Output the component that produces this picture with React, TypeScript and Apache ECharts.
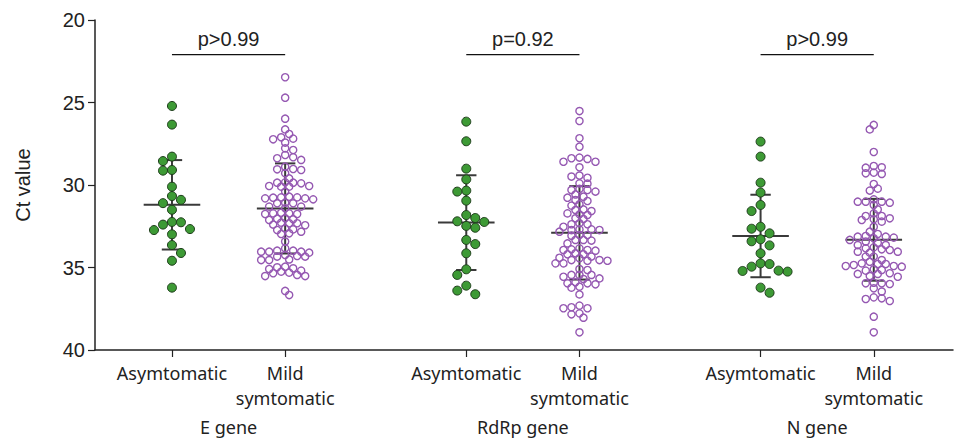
import React, { useEffect, useRef } from "react";
import * as echarts from "echarts";

// ---------- data ----------
const genes = ["E gene", "RdRp gene", "N gene"];
const groupLabels = ["Asymtomatic", "Mild\nsymtomatic"];
const pValues = ["p>0.99", "p=0.92", "p>0.99"];
const bracketLevel = 22.1;
const yTicks = [20, 25, 30, 35, 40];

const eAsym = [25.21, 26.34, 28.28, 28.55, 29.13, 29.09, 30.1, 30.67, 30.9, 31.1, 31.5, 32.4, 32.24, 32.26, 32.73, 32.67, 32.99, 33.64, 34.12, 34.59, 36.22];
const eMild = [23.47, 24.71, 25.98, 26.63, 26.91, 27.19, 27.11, 27.23, 27.43, 27.78, 27.88, 28.18, 28.32, 28.38, 28.48, 28.89, 29.03, 29.05, 29.09, 29.29, 29.6,
  29.9, 29.84, 29.86, 29.86, 30.06, 30.1, 30.06, 30.1, 30.4, 30.71, 30.75, 30.81, 30.77, 30.75, 30.81, 30.87, 31.11, 31.11, 31.07, 31.31, 31.41, 31.31,
  31.72, 31.76, 31.68, 31.72, 31.76, 32.02, 32.08, 32.12, 32.04, 32.28, 32.32, 32.32, 32.4, 32.44, 32.63, 32.69, 32.73, 32.83, 32.93, 32.97, 33.43, 33.84,
  33.98, 34.04, 34.1, 34.04, 34.04, 33.98, 34.24, 34.34, 34.34, 34.3, 34.55, 34.51, 34.55, 34.95, 35.05, 34.99, 35.09, 35.19, 35.25, 35.31, 35.35,
  35.45, 35.52, 35.52, 36.42, 36.67];
const rdrpAsym = [26.16, 27.35, 29.01, 29.66, 30.34, 30.4, 30.95, 31.82, 32.2, 32.0, 32.24, 32.59, 32.48, 33.33, 33.58, 34.14, 35.11, 35.45, 36.1, 36.4, 36.62];
const rdrpMild = [25.52, 26.12, 27.17, 27.68, 28.34, 28.42, 28.38, 28.59, 28.59, 28.93, 29.49, 29.56, 29.43, 29.9, 29.92, 30.3, 30.3, 30.24, 30.4, 30.57,
  30.71, 30.77, 30.97, 30.91, 31.17, 31.25, 31.48, 31.52, 31.72, 31.78, 31.82, 31.58, 32.02, 32.06, 32.32, 32.38, 32.38, 32.53, 32.69, 32.73, 32.69, 32.73,
  33.03, 33.07, 32.83, 33.03, 33.33, 33.33, 33.37, 33.54, 33.84, 33.94, 33.98, 33.94, 33.9, 34.14, 34.2, 34.2, 34.41, 34.34, 34.44, 34.55, 34.55, 34.59, 34.59,
  34.75, 34.75, 35.09, 35.15, 35.45, 35.45, 35.45, 35.56, 35.66, 35.7, 35.96, 35.96, 35.9, 36.02, 36.16, 36.22, 36.63, 37.31, 37.41, 37.47, 37.47,
  37.84, 37.78, 38.04, 38.93];
const nAsym = [27.37, 28.28, 29.86, 30.46, 31.21, 31.58, 32.53, 32.65, 32.93, 33.29, 33.41, 33.66, 34.14, 34.75, 34.79, 34.95, 35.25, 35.19, 35.21, 36.22, 36.53];
const nMild = [26.36, 26.63, 28.0, 28.93, 28.85, 28.95, 29.25, 29.33, 29.29, 29.94, 30.22, 30.34, 30.87, 31.01, 31.07, 31.01, 31.01, 31.21, 31.48, 31.72,
  31.88, 31.88, 32.02, 32.08, 32.12, 32.22, 32.53, 32.83, 32.97, 33.09, 33.13, 33.23, 33.19, 33.13, 33.33, 33.43, 33.5, 33.64, 33.64, 33.84, 33.9, 33.78,
  34.04, 34.1, 34.04, 33.94, 34.34, 34.34, 34.65, 34.55, 34.75, 34.79, 34.85, 34.79, 34.95, 34.91, 34.91, 35.15, 35.19, 35.11, 35.35, 35.39, 35.39,
  35.52, 35.56, 35.96, 35.96, 36.0, 35.92, 36.26, 36.46, 36.81, 36.87, 36.91, 37.03, 37.98, 38.93];

const groupValues = [eAsym, eMild, rdrpAsym, rdrpMild, nAsym, nMild];
const groupMeans = [31.2, 31.42, 32.28, 32.9, 33.09, 33.32];
const groupSds = [2.71, 2.73, 2.87, 2.83, 2.5, 2.48];

// ---------- layout ----------
const W = 957;
const H = 440;
const GRID = { left: 95, right: 4, top: 20, bottom: 90 };
const X_MIN = -0.68;
const X_MAX = 6.9;
const GROUP_STEP = 2.6;
const Y_MIN = 20;
const Y_MAX = 40;

const pxPerX = (W - GRID.left - GRID.right) / (X_MAX - X_MIN);
const pxPerY = (H - GRID.top - GRID.bottom) / (Y_MAX - Y_MIN);

const posOf = (g: number, s: number) => g * GROUP_STEP + s;
const catPositions: number[] = [];
const catNames: string[] = [];
genes.forEach((_, g) => groupLabels.forEach((lab, s) => { catPositions.push(posOf(g, s)); catNames.push(lab); }));
const genePositions = genes.map((_, g) => posOf(g, 0.5));

function swarm(values: number[], step: number, minDist: number): number[] {
  const order = values.map((_, i) => i).sort((a, b) => values[a] - values[b]);
  const placed: { x: number; y: number }[] = [];
  const offs = new Array(values.length).fill(0);
  let flip = 1;
  for (const i of order) {
    const y = values[i] * pxPerY;
    let chosen = 0;
    for (let k = 0; k < 60; k++) {
      const cands = k === 0 ? [0] : [flip * k * step, -flip * k * step];
      const ok = cands.find((c) => placed.every((p) => (p.x - c) ** 2 + (p.y - y) ** 2 >= minDist * minDist));
      if (ok !== undefined) { chosen = ok; break; }
    }
    flip = -flip;
    placed.push({ x: chosen, y });
    offs[i] = chosen;
  }
  return offs;
}

const GREEN = "#3d9a35";
const GREEN_EDGE = "#1e3d1b";
const PURPLE = "#9558b2";
const LABEL_FONT = "'Noto Sans', Roboto, sans-serif";
const NUM_FONT = "'Liberation Sans', Arial, sans-serif";

export default function App() {
  const ref = useRef<HTMLDivElement>(null);
  useEffect(() => {
    if (!ref.current) return;
    const chart = echarts.init(ref.current, undefined, { renderer: "svg" });

    const dotSeries = groupValues.map((vals, idx) => {
      const g = Math.floor(idx / 2);
      const s = idx % 2;
      const asym = s === 0;
      const offs = asym ? swarm(vals, 9, 9) : swarm(vals, 4, 5.6);
      const center = posOf(g, s);
      return {
        type: "scatter",
        z: 3,
        silent: true,
        symbol: "circle",
        symbolSize: asym ? 9 : 7.2,
        itemStyle: asym
          ? { color: GREEN, borderColor: GREEN_EDGE, borderWidth: 1, opacity: 1 }
          : { color: "rgba(0,0,0,0)", borderColor: PURPLE, borderWidth: 1.4, opacity: 1 },
        data: vals.map((v, i) => [center + offs[i] / pxPerX, v]),
      };
    });

    const statsData = groupMeans.map((m, i) => [catPositions[i], m, groupSds[i]]);
    const bracketData = genes.map((_, g) => [posOf(g, 0), posOf(g, 1), bracketLevel]);

    const axisColor = "#222";
    const option: any = {
      animation: false,
      grid: { ...GRID, containLabel: false },
      xAxis: [
        {
          type: "value",
          min: X_MIN,
          max: X_MAX,
          position: "bottom",
          axisLine: { show: true, onZero: false, lineStyle: { color: axisColor, width: 1.5 } },
          axisTick: { show: true, customValues: catPositions, length: 7, lineStyle: { color: axisColor, width: 1.2 } },
          axisLabel: {
            customValues: catPositions,
            formatter: (v: number) => {
              const i = catPositions.findIndex((p) => Math.abs(p - v) < 1e-6);
              return i >= 0 ? catNames[i] : "";
            },
            fontFamily: LABEL_FONT,
            fontSize: 18,
            lineHeight: 25,
            color: "#222",
            margin: 10,
          },
          splitLine: { show: false },
        },
        {
          type: "value",
          min: X_MIN,
          max: X_MAX,
          position: "bottom",
          axisLine: { show: false, onZero: false },
          axisTick: { show: false },
          axisLabel: {
            customValues: genePositions,
            formatter: (v: number) => {
              const i = genePositions.findIndex((p) => Math.abs(p - v) < 1e-6);
              return i >= 0 ? genes[i] : "";
            },
            fontFamily: LABEL_FONT,
            fontSize: 18,
            color: "#222",
            margin: 68,
          },
          splitLine: { show: false },
        },
      ],
      yAxis: {
        type: "value",
        inverse: true,
        min: Y_MIN,
        max: Y_MAX,
        interval: 5,
        name: "Ct value",
        nameLocation: "middle",
        nameGap: 62,
        nameTextStyle: { fontFamily: NUM_FONT, fontSize: 20, color: "#222" },
        axisLine: { show: true, onZero: false, lineStyle: { color: axisColor, width: 1.5 } },
        axisTick: { show: true, length: 7, lineStyle: { color: axisColor, width: 1.2 } },
        axisLabel: {
          fontFamily: NUM_FONT,
          fontSize: 20,
          color: "#222",
          margin: 10,
          formatter: (v: number) => (yTicks.includes(v) ? String(v) : ""),
        },
        splitLine: { show: false },
      },
      series: [
        {
          type: "custom",
          z: 2,
          silent: true,
          renderItem: (_p: any, api: any) => {
            const x = api.value(0), m = api.value(1), s = api.value(2);
            const style = { stroke: "#3a3a3a", lineWidth: 2 };
            const seg = (a: number[], b: number[]) => ({ type: "line", shape: { x1: a[0], y1: a[1], x2: b[0], y2: b[1] }, style });
            return {
              type: "group",
              children: [
                seg(api.coord([x - 0.25, m]), api.coord([x + 0.25, m])),
                seg(api.coord([x, m - s]), api.coord([x, m + s])),
                seg(api.coord([x - 0.09, m - s]), api.coord([x + 0.09, m - s])),
                seg(api.coord([x - 0.09, m + s]), api.coord([x + 0.09, m + s])),
              ],
            };
          },
          data: statsData,
        },
        {
          type: "custom",
          z: 2,
          silent: true,
          renderItem: (p: any, api: any) => {
            const a = api.coord([api.value(0), api.value(2)]);
            const b = api.coord([api.value(1), api.value(2)]);
            return {
              type: "group",
              children: [
                { type: "line", shape: { x1: a[0], y1: a[1], x2: b[0], y2: b[1] }, style: { stroke: "#111", lineWidth: 1.4 } },
                {
                  type: "text",
                  x: (a[0] + b[0]) / 2,
                  y: a[1] - 6,
                  style: {
                    text: pValues[p.dataIndex],
                    fontFamily: NUM_FONT,
                    fontSize: 20,
                    fill: "#222",
                    align: "center",
                    verticalAlign: "bottom",
                  },
                },
              ],
            };
          },
          data: bracketData,
        },
        ...dotSeries,
        { type: "scatter", xAxisIndex: 1, data: [] },
      ],
    };
    chart.setOption(option);
    return () => chart.dispose();
  }, []);
  return <div ref={ref} style={{ position: "fixed", left: 0, top: 0, width: W, height: H, background: "#fff" }} />;
}
